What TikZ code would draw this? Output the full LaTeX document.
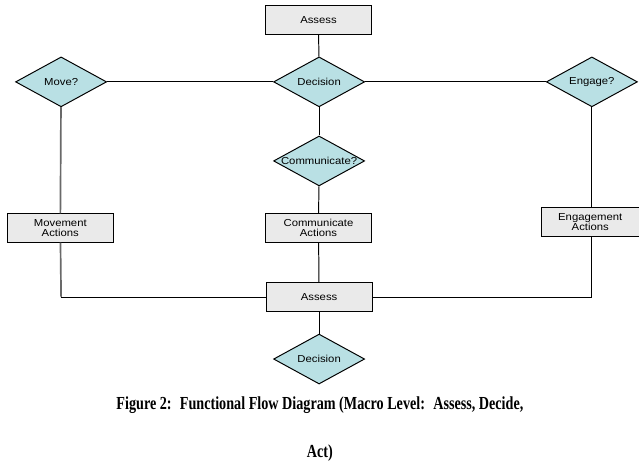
\documentclass[tikz,border=0pt]{standalone}
\usepackage{fontspec}
\usepackage{xcolor}
\usepackage{tikz}
\usetikzlibrary{shapes.geometric}
\newfontfamily\flowfont[FakeStretch=1.12]{Liberation Sans}
\newfontfamily\captionfont[FakeStretch=0.77]{Liberation Serif}
\definecolor{decisioncyan}{RGB}{185,224,228}
\definecolor{actiongray}{RGB}{234,234,234}
\definecolor{legline}{RGB}{105,105,105}

\begin{document}
\begin{tikzpicture}[
    link/.style={draw=black, line width=0.7pt},
    graylink/.style={draw=legline, line width=1.2pt},
    action/.style={draw=black, line width=0.7pt, fill=actiongray, minimum width=2.65cm, minimum height=0.71cm, inner sep=0pt, align=center, font=\flowfont\fontsize{7.2}{7.4}\selectfont},
    decide/.style={draw=black, line width=0.7pt, fill=decisioncyan, diamond, aspect=1.82, minimum width=2.28cm, minimum height=1.25cm, inner sep=0pt, font=\flowfont\fontsize{7.2}{7.4}\selectfont},
    captiontext/.style={align=center, font=\captionfont\bfseries\fontsize{13.1}{34.2}\selectfont}
]
    \useasboundingbox (0,0) rectangle (16,-11.543);

    % Assess and decide
    \node[action] (assesstop) at (7.975,-0.50) {Assess};
    \node[decide] (dectop) at (7.99,-2.05) {Decision};
    \node[decide] (move) at (1.53,-2.05) {Move?};
    \node[decide] (engage) at (14.82,-2.05) {Engage?};
    \node[decide] (commq) at (7.99,-4.03) {\makebox[0pt]{Communicate?}};

    % Actions
    \node[action] (moveact) at (1.51,-5.71) {Movement\\Actions};
    \node[action] (commact) at (7.975,-5.71) {Communicate\\Actions};
    \node[action, minimum width=2.45cm] (engact) at (14.78,-5.56) {Engagement\\Actions};

    % Assess again, then decide
    \node[action] (assessbot) at (7.99,-7.44) {Assess};
    \node[decide] (decbot) at (7.99,-8.99) {Decision};
    \coordinate (leftcorner) at (move |- assessbot);
    \coordinate (rightcorner) at (engage |- assessbot);

    % Connectors
    \draw[link] (assesstop) -- (dectop);
    \draw[link] (dectop) -- (move);
    \draw[link] (dectop) -- (engage);
    \draw[link] (dectop) -- (commq);
    \draw[link] (commq) -- (commact);
    \draw[graylink] (move) -- (moveact);
    \draw[graylink] (moveact) -- (leftcorner);
    \draw[link] (leftcorner) -- (assessbot);
    \draw[link] (engage) -- (engage |- engact.north);
    \draw[link] (engage |- engact.south) -- (rightcorner) -- (assessbot);
    \draw[link] (commact) -- (assessbot);
    \draw[link] (assessbot) -- (decbot);

    % Caption
    \node[captiontext] (caption) at (8.01,-10.74) {Figure 2:~ Functional Flow Diagram (Macro Level:~ Assess, Decide,\\Act)};
\end{tikzpicture}
\end{document}
